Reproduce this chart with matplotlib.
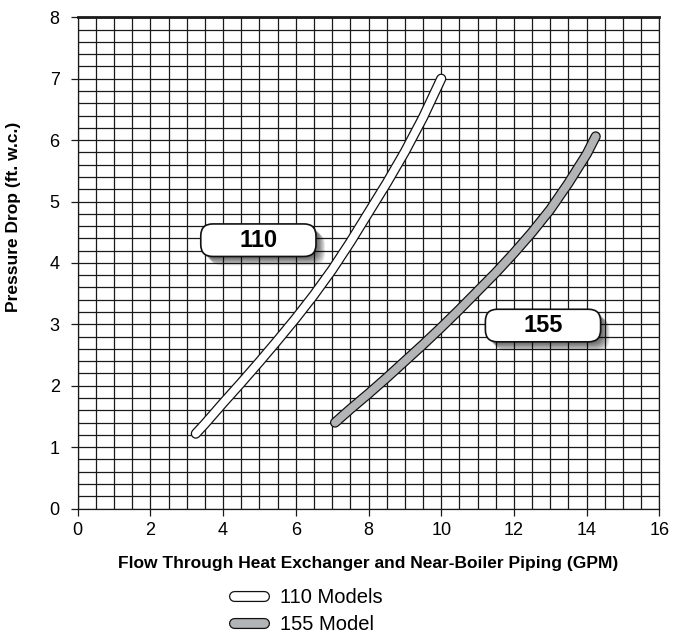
import numpy as np
import matplotlib
matplotlib.use("Agg")
import matplotlib.pyplot as plt
import matplotlib.patheffects as pe
from matplotlib.patches import FancyBboxPatch
from matplotlib.lines import Line2D

plt.rcParams['font.family'] = ['Liberation Sans', 'DejaVu Sans']

# ---- data ----
flow_110 = [3.25, 3.5, 4.0, 4.5, 5.0, 5.5, 6.0, 6.5, 7.0, 7.5, 8.0, 8.5, 9.0, 9.5, 10.0]
drop_110 = [1.22, 1.38, 1.72, 2.05, 2.39, 2.74, 3.10, 3.48, 3.89, 4.34, 4.82, 5.30, 5.81, 6.37, 7.00]

flow_155 = [7.08, 7.5, 8.0, 8.5, 9.0, 9.5, 10.0, 10.5, 11.0, 11.5, 12.0, 12.5, 13.0, 13.5, 14.0, 14.25]
drop_155 = [1.40, 1.62, 1.87, 2.13, 2.40, 2.67, 2.95, 3.24, 3.54, 3.84, 4.16, 4.50, 4.87, 5.30, 5.77, 6.06]

series_labels = ["110 Models", "155 Model"]
box_labels = ["110", "155"]
box_centers = [(4.97, 4.37), (12.80, 2.98)]

x_ticks = [0, 2, 4, 6, 8, 10, 12, 14, 16]
y_ticks = [0, 1, 2, 3, 4, 5, 6, 7, 8]

fill_110 = "white"
fill_155 = "#b2b4b6"

fig = plt.figure(figsize=(6.83, 6.37), dpi=100)
ax = fig.add_axes([0.1138, 0.2017, 0.8515, 0.7711])
ax.set_xlim(0, 16)
ax.set_ylim(0, 8)
ax.set_xticks(x_ticks)
ax.set_yticks(y_ticks)
ax.set_xticks(np.arange(0, 16.01, 0.5), minor=True)
ax.set_yticks(np.arange(0, 8.01, 0.2), minor=True)
ax.grid(which='both', color='#1a1a1a', lw=0.9)
ax.set_axisbelow(True)
ax.tick_params(which='minor', length=0)
ax.tick_params(which='major', length=5, width=0.9, direction='out', labelsize=13, pad=5,
               color='#1a1a1a')
ax.tick_params(axis='y', which='major', pad=8)
for s in ax.spines.values():
    s.set_linewidth(0.9)
    s.set_color('#1a1a1a')
ax.spines['top'].set_linewidth(2.0)

ax.set_xlabel("Flow Through Heat Exchanger and Near-Boiler Piping (GPM)",
              fontsize=12.5, fontweight='bold', labelpad=12)
ax.set_ylabel("Pressure Drop (ft. w.c.)", fontsize=12.5, fontweight='bold', labelpad=20)
ax.yaxis.set_label_coords(-0.097, 0.594)

def outlined(color, w=5.6):
    return dict(color=color, lw=w, solid_capstyle='round', solid_joinstyle='round',
                path_effects=[pe.Stroke(linewidth=w + 1.8, foreground='#111111'), pe.Normal()])

ax.plot(flow_110, drop_110, zorder=3, label=series_labels[0], **outlined(fill_110))
ax.plot(flow_155, drop_155, zorder=3, label=series_labels[1], **outlined(fill_155))

# label boxes with soft shadow
bw, bh = 3.17, 0.53
px_x = 16 / (0.8515 * 683)   # data per pixel in x
px_y = 8 / (0.7711 * 637)    # data per pixel in y
asp = px_y / px_x
rs = "round,pad=0,rounding_size=%f" % (12 * px_x)
for (cx, cy), txt in zip(box_centers, box_labels):
    for k in range(9):
        off = 1 + k
        sh = FancyBboxPatch((cx - bw / 2 + off * px_x, cy - bh / 2 - off * px_y), bw, bh,
                            boxstyle=rs, mutation_aspect=asp, facecolor='black',
                            edgecolor='none', alpha=0.09, zorder=4)
        ax.add_patch(sh)
    box = FancyBboxPatch((cx - bw / 2, cy - bh / 2), bw, bh, boxstyle=rs,
                         mutation_aspect=asp, facecolor='white', edgecolor='#111111',
                         lw=1.2, zorder=5)
    ax.add_patch(box)
    ax.text(cx, cy, txt, ha='center', va='center', fontsize=17, fontweight='bold', zorder=6)

h1 = Line2D([], [], **outlined(fill_110, 6.2))
h2 = Line2D([], [], **outlined(fill_155, 6.2))
leg = fig.legend([h1, h2], series_labels, loc='upper left',
                 bbox_to_anchor=(0.343, 1 - 588 / 637), frameon=False, fontsize=14.5,
                 handlelength=1.5, handletextpad=0.78, labelspacing=0.4, borderaxespad=0,
                 borderpad=0)

fig.savefig("out.png", dpi=100)
